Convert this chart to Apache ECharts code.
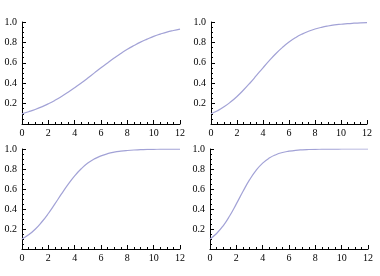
<!DOCTYPE html>
<html><head><meta charset="utf-8">
<script src="https://cdn.jsdelivr.net/npm/echarts@6/dist/echarts.min.js"></script>
<style>html,body{margin:0;padding:0;background:#fff}#c{width:380px;height:276px}</style>
</head><body><div id="c"></div>
<script>
// x positions for each panel
const x1 = [0,0.5,1,1.5,2,2.5,3,3.5,4,4.5,5,5.5,6,6.5,7,7.5,8,8.5,9,9.5,10,10.5,11,11.5,12];
// panel values
const yA = [0.100,0.120,0.142,0.168,0.198,0.232,0.270,0.311,0.355,0.402,0.451,0.501,0.551,0.599,0.646,0.691,0.732,0.769,0.803,0.832,0.859,0.881,0.901,0.917,0.931];
const yB = [0.100,0.130,0.168,0.215,0.270,0.333,0.402,0.476,0.551,0.623,0.691,0.751,0.803,0.846,0.881,0.909,0.931,0.948,0.961,0.971,0.978,0.984,0.988,0.991,0.993];
const yC = [0.100,0.142,0.198,0.270,0.355,0.451,0.551,0.646,0.732,0.803,0.859,0.901,0.931,0.953,0.968,0.978,0.985,0.990,0.993,0.996,0.997,0.998,0.999,0.999,0.999];
const yD = [0.100,0.155,0.232,0.333,0.451,0.575,0.691,0.786,0.859,0.909,0.943,0.965,0.978,0.987,0.992,0.995,0.997,0.998,0.999,0.999,1.000,1.000,1.000,1.000,1.000];
const xTicks = [0,2,4,6,8,10,12];
const yTicks = [0.2,0.4,0.6,0.8,1.0];

const grids = [
  {left:22, top:22, width:158, height:102},
  {left:211, top:22, width:156, height:102},
  {left:22, top:149, width:158, height:100},
  {left:210, top:149, width:158, height:100}
];
const series = [yA,yB,yC,yD];
const font = {fontFamily:'Liberation Serif', fontSize:10, color:'#000'};
const opt = {animation:false, grid:[], xAxis:[], yAxis:[], series:[]};
grids.forEach((g,i)=>{
  opt.grid.push(g);
  opt.xAxis.push({type:'value', gridIndex:i, min:xTicks[0], max:xTicks[xTicks.length-1], interval:2,
    axisLine:{onZero:false, lineStyle:{color:'#000', width:1}},
    axisTick:{inside:true, length:4, lineStyle:{color:'#000'}},
    minorTick:{show:true, splitNumber:4, length:2, lineStyle:{color:'#000'}},
    splitLine:{show:false},
    axisLabel:Object.assign({margin:4, formatter:v=>xTicks.includes(v)?String(v):''}, font)});
  opt.yAxis.push({type:'value', gridIndex:i, min:0, max:1, interval:0.2,
    axisLine:{show:true, onZero:false, lineStyle:{color:'#000', width:1}},
    axisTick:{show:true, inside:true, length:4, lineStyle:{color:'#000'}},
    minorTick:{show:true, splitNumber:4, length:2, lineStyle:{color:'#000'}},
    splitLine:{show:false},
    axisLabel:Object.assign({margin:5, formatter:v=>{const t=yTicks.find(y=>Math.abs(y-v)<1e-6);return t!==undefined?t.toFixed(1):'';}}, font)});
  opt.series.push({type:'line', xAxisIndex:i, yAxisIndex:i, showSymbol:false, smooth:true,
    lineStyle:{color:'#a2a2d6', width:1.2},
    data:x1.map((x,j)=>[x, series[i][j]])});
});
echarts.init(document.getElementById('c'), null, {renderer:'canvas'}).setOption(opt);
</script></body></html>
